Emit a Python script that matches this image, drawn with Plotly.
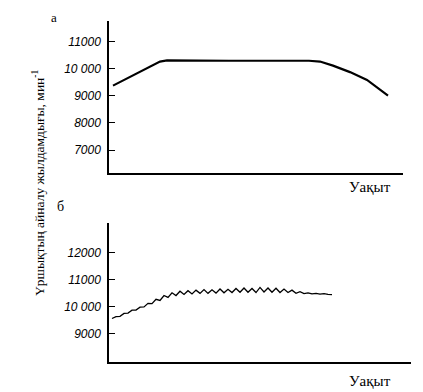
import plotly.graph_objects as go

# Panel а: spindle speed over time (smooth)
top_time = [4, 14, 24, 33, 41, 51, 58, 80, 120, 160, 200, 211, 224, 241, 258, 279]
top_speed = [9380, 9570, 9750, 9930, 10100, 10270, 10310, 10300, 10300, 10300, 10300, 10270, 10120, 9880, 9590, 9010]

# Panel б: spindle speed over time (oscillating)
bot_time = [3, 7, 11, 15, 19, 23, 27, 31, 35, 39, 43, 47, 51, 55, 59, 63, 67, 71, 75, 79,
            83, 87, 91, 95, 99, 103, 107, 111, 115, 119, 123, 127, 131, 135, 139, 143, 147,
            151, 155, 159, 163, 167, 171, 175, 179, 183, 187, 191, 195, 199, 203, 207, 211,
            215, 219, 223]
bot_speed = [9570, 9640, 9650, 9760, 9770, 9880, 9880, 9990, 10000, 10130, 10120, 10280,
             10240, 10420, 10350, 10520, 10420, 10580, 10460, 10600, 10480, 10620, 10500,
             10640, 10500, 10630, 10510, 10660, 10520, 10650, 10530, 10680, 10540, 10700,
             10540, 10680, 10530, 10720, 10550, 10700, 10540, 10690, 10530, 10660, 10530,
             10620, 10500, 10560, 10490, 10520, 10480, 10500, 10470, 10490, 10460, 10450]

top_ticks = [7000, 8000, 9000, 10000, 11000]
top_ticktext = ["7000", "8000", "9000", "10 000", "11000"]
bot_ticks = [9000, 10000, 11000, 12000]
bot_ticktext = ["9000", "10 000", "11000", "12000"]

OFF = 8  # page body margin
W, H = 423 - OFF, 392 - OFF

def px(x):
    return (x - OFF) / W

def py(y):
    return 1 - (y - OFF) / H

def xd(a, b):
    return [px(a), px(b)]

def yd(top, bottom):
    return [py(bottom), py(top)]

fig = go.Figure()
fig.add_trace(go.Scatter(x=top_time, y=top_speed, mode="lines",
                         line=dict(color="black", width=2.2), xaxis="x", yaxis="y",
                         showlegend=False, hoverinfo="skip"))
fig.add_trace(go.Scatter(x=bot_time, y=bot_speed, mode="lines",
                         line=dict(color="black", width=1.3), xaxis="x2", yaxis="y2",
                         showlegend=False, hoverinfo="skip"))

tickfont = dict(family="Liberation Sans", size=12, color="black", style="italic")
axis_common = dict(showgrid=False, zeroline=False, showline=True, linecolor="black", linewidth=1.5)

fig.update_layout(
    width=W, height=H,
    margin=dict(l=0, r=0, t=0, b=0),
    paper_bgcolor="white", plot_bgcolor="white",
    xaxis=dict(domain=xd(109, 403), range=[0, 294], showticklabels=False, ticks="",
               anchor="y", **axis_common),
    yaxis=dict(domain=yd(20.7, 173), range=[6150, 11780], tickvals=top_ticks,
               ticktext=top_ticktext, ticks="inside", ticklen=6, tickcolor="black",
               tickwidth=1.2, tickfont=tickfont, anchor="x", ticklabelstandoff=4,
               **axis_common),
    xaxis2=dict(domain=xd(109, 411), range=[0, 302], showticklabels=False, ticks="",
                anchor="y2", **axis_common),
    yaxis2=dict(domain=yd(223, 361.7), range=[7975, 13100], tickvals=bot_ticks,
                ticktext=bot_ticktext, ticks="inside", ticklen=6, tickcolor="black",
                tickwidth=1.2, tickfont=tickfont, anchor="x2", ticklabelstandoff=4,
                **axis_common),
)

serif = "Liberation Serif"
ann = [
    dict(text="Үршықтың айналу жылдамдығы, мин<sup>-1</sup>", x=px(38), y=py(183),
         textangle=-90, font=dict(family=serif, size=13.5, color="black")),
    dict(text="Уақыт", x=px(370), y=py(187), font=dict(family=serif, size=15, color="black")),
    dict(text="Уақыт", x=px(370), y=py(381), font=dict(family=serif, size=15, color="black")),
    dict(text="а", x=px(54), y=1.0, yanchor="top", font=dict(family=serif, size=13, color="black")),
    dict(text="б", x=px(60), y=py(206), font=dict(family=serif, size=14, color="black")),
]
for a in ann:
    a.setdefault("yanchor", "middle")
    a.update(xref="paper", yref="paper", showarrow=False, xanchor="center")
fig.update_layout(annotations=ann)

fig.write_html("out.html")
